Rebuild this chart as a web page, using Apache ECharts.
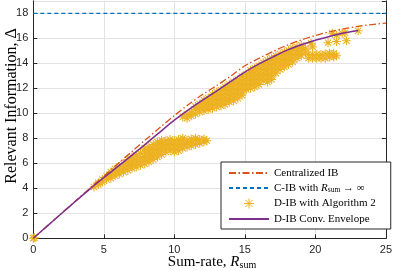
<!DOCTYPE html>
<html><head><meta charset="utf-8">
<script src="https://cdn.jsdelivr.net/npm/echarts@6/dist/echarts.min.js"></script>
<style>html,body{margin:0;padding:0;background:#fff}#c{width:395px;height:271px}</style>
</head><body><div id="c"></div>
<script>
// ---- data ----
const centralX = [0,1,2,3,4,5,6,7,8,9,10,11,12,13,14,15,16,17,18,19,20,21,22,23,24,25];
const centralY = [0,1.0,2.0,3.0,3.99,4.97,5.97,6.95,7.92,8.88,9.82,10.7,11.5,12.22,12.98,13.8,14.4,14.95,15.45,15.87,16.22,16.52,16.76,16.95,17.1,17.22];
const infLimitX = [0,25];
const infLimitY = [18,18];
const envX = [0,1,2,3,4,5,6,7,8,9,10,11,12,13,14,15,16,17,18,19,20,21,22,23.03];
const envY = [0,0.99,1.98,2.96,3.93,4.85,5.75,6.65,7.58,8.52,9.45,10.28,11.05,11.78,12.55,13.3,13.95,14.52,15.05,15.48,15.85,16.15,16.42,16.62];
const algPoints = [
 [0,0],[0.08,0.05],[0.05,-0.05],
 [4.3,4.1],[4.6,4.3],[4.6,4.45],[4.9,4.5],[4.9,4.7],[5.2,4.7],[5.2,4.95],
 [5.5,4.8],[5.5,5.05],[5.5,5.3],[5.8,5.0],[5.8,5.25],[5.8,5.55],
 [6.1,5.15],[6.1,5.45],[6.1,5.75],[6.4,5.3],[6.4,5.6],[6.4,5.95],
 [6.7,5.45],[6.7,5.75],[6.7,6.05],[6.7,6.3],[7.0,5.6],[7.0,5.9],[7.0,6.2],[7.0,6.5],
 [7.3,5.7],[7.3,6.0],[7.3,6.3],[7.3,6.65],[7.6,5.85],[7.6,6.15],[7.6,6.45],[7.6,6.8],
 [7.9,5.95],[7.9,6.25],[7.9,6.55],[7.9,6.9],[7.9,7.2],[8.2,6.1],[8.2,6.4],[8.2,6.7],[8.2,7.0],[8.2,7.3],
 [8.5,6.3],[8.5,6.6],[8.5,6.9],[8.5,7.2],[8.5,7.5],[8.8,6.5],[8.8,6.8],[8.8,7.1],[8.8,7.4],[8.8,7.7],
 [9.1,6.7],[9.1,7.0],[9.1,7.3],[9.1,7.6],[9.1,7.85],[9.4,6.9],[9.4,7.2],[9.4,7.5],[9.4,7.8],
 [9.7,7.0],[9.7,7.3],[9.7,7.6],[9.7,7.9],[10.0,6.9],[10.0,7.2],[10.0,7.5],[10.0,7.8],
 [10.3,7.0],[10.3,7.3],[10.3,7.6],[10.3,7.9],[10.6,7.2],[10.6,7.5],[10.6,7.8],[10.6,8.0],
 [10.9,7.3],[10.9,7.6],[10.9,7.85],[11.2,7.4],[11.2,7.7],[11.2,7.95],[11.5,7.5],[11.5,7.8],[11.5,8.0],
 [11.8,7.6],[11.8,7.9],[12.1,7.7],[12.1,7.95],[12.3,7.8],
 [10.6,9.7],[10.9,9.6],[10.9,9.9],[11.2,9.8],[11.2,10.1],[11.5,9.95],[11.5,10.3],[11.5,10.55],
 [11.8,10.1],[11.8,10.45],[11.8,10.75],[12.1,10.2],[12.1,10.5],[12.1,10.8],[12.1,11.05],
 [12.4,10.3],[12.4,10.6],[12.4,10.9],[12.4,11.2],[12.7,10.4],[12.7,10.7],[12.7,11.0],[12.7,11.3],[12.7,11.5],
 [13.0,10.5],[13.0,10.8],[13.0,11.1],[13.0,11.4],[13.0,11.7],[13.3,10.6],[13.3,10.9],[13.3,11.2],[13.3,11.5],[13.3,11.85],
 [13.6,10.7],[13.6,11.0],[13.6,11.3],[13.6,11.6],[13.6,11.9],[13.6,12.1],
 [13.9,10.9],[13.9,11.2],[13.9,11.5],[13.9,11.8],[13.9,12.1],[13.9,12.3],
 [14.2,11.0],[14.2,11.3],[14.2,11.6],[14.2,11.9],[14.2,12.2],[14.2,12.5],
 [14.5,11.2],[14.5,11.5],[14.5,11.8],[14.5,12.1],[14.5,12.4],[14.5,12.7],
 [14.8,11.45],[14.8,11.7],[14.8,12.0],[14.8,12.3],[14.8,12.6],[14.8,12.95],
 [15.1,11.9],[15.1,12.2],[15.1,12.5],[15.1,12.8],[15.1,13.1],
 [15.4,12.0],[15.4,12.3],[15.4,12.6],[15.4,12.9],[15.4,13.2],[15.4,13.45],
 [15.7,12.1],[15.7,12.4],[15.7,12.7],[15.7,13.0],[15.7,13.3],[15.7,13.6],
 [16.0,12.3],[16.0,12.6],[16.0,12.9],[16.0,13.2],[16.0,13.5],[16.0,13.8],
 [16.3,12.6],[16.3,12.9],[16.3,13.2],[16.3,13.5],[16.3,13.8],[16.3,14.05],
 [16.6,12.5],[16.6,12.8],[16.6,13.1],[16.6,13.4],[16.6,13.7],[16.6,14.0],[16.6,14.25],
 [16.9,12.7],[16.9,13.0],[16.9,13.3],[16.9,13.6],[16.9,13.9],[16.9,14.2],[16.9,14.4],
 [17.2,13.2],[17.2,13.5],[17.2,13.8],[17.2,14.1],[17.2,14.4],[17.2,14.6],
 [17.5,13.5],[17.5,13.8],[17.5,14.1],[17.5,14.4],[17.5,14.75],[17.8,13.7],[17.8,14.0],[17.8,14.3],[17.8,14.6],[17.8,14.9],
 [18.1,13.9],[18.1,14.2],[18.1,14.5],[18.1,14.8],[18.1,15.05],[18.4,14.1],[18.4,14.4],[18.4,14.7],[18.4,15.0],[18.4,15.2],
 [18.7,14.4],[18.7,14.7],[18.7,15.0],[18.7,15.3],[19.0,14.6],[19.0,14.9],[19.0,15.2],[19.0,15.45],[19.3,14.9],[19.3,15.2],
 [19.5,14.4],[19.5,14.7],[19.8,14.4],[19.8,14.7],[19.8,15.3],[20.1,14.4],[20.1,14.7],[20.4,14.4],[20.4,14.7],
 [20.7,14.4],[20.7,14.75],[21.0,14.5],[21.0,14.8],[21.3,14.5],[21.3,14.8],[21.5,14.6],
 [19.7,15.6],[20.9,15.65],[21.5,15.75],[21.5,16.25],[22.2,15.8],[22.1,16.45],[23.03,16.6],[21.2,16.4],[21.9,16.4]
];
const xTicks = {min:0, max:25, interval:5};
const yTicks = {min:0, max:19, interval:2};

const serif = 'Liberation Serif';
const sans = 'Liberation Sans';
const star = 'path://M5 0L5 10M0 5L10 5M1.5 1.5L8.5 8.5M1.5 8.5L8.5 1.5';
const zip = (xs, ys) => xs.map((x,i)=>[x, ys[i]]);

const chart = echarts.init(document.getElementById('c'), null, {renderer:'canvas'});
const axisCol = '#262626';
const hiddenSym = {opacity:0};
chart.setOption({
  animation:false,
  backgroundColor:'#fff',
  grid:{left:33.3, right:3.5, top:0.8, bottom:32.7},
  xAxis:[{type:'value', min:xTicks.min, max:xTicks.max, interval:xTicks.interval,
    axisLine:{show:true, onZero:false, lineStyle:{color:axisCol, width:1}},
    axisTick:{show:true, inside:true, length:4, lineStyle:{color:axisCol}},
    axisLabel:{color:axisCol, fontFamily:sans, fontSize:11, margin:6},
    splitLine:{show:true, lineStyle:{color:'#e3e3e3', width:1}}}],
  yAxis:[{type:'value', min:yTicks.min, max:yTicks.max, interval:yTicks.interval,
    axisLine:{show:true, onZero:false, lineStyle:{color:axisCol, width:1}},
    axisTick:{show:true, inside:true, length:4, lineStyle:{color:axisCol}},
    axisLabel:{color:axisCol, fontFamily:sans, fontSize:11, margin:5, showMaxLabel:false},
    splitLine:{show:true, lineStyle:{color:'#e3e3e3', width:1}}},
    {type:'value', position:'right', min:yTicks.min, max:yTicks.max, interval:yTicks.interval,
    axisLine:{show:true, onZero:false, lineStyle:{color:axisCol, width:1}},
    axisTick:{show:true, inside:true, length:4, lineStyle:{color:axisCol}},
    axisLabel:{show:false}, splitLine:{show:false}}],
  legend:{
    orient:'vertical', left:221, top:162,
    backgroundColor:'#fff', borderColor:axisCol, borderWidth:1,
    padding:[4,15,3,7], itemGap:1, itemWidth:40, itemHeight:10,
    textStyle:{fontFamily:serif, fontSize:11, color:'#000', lineHeight:14,
      rich:{n:{fontFamily:serif, fontSize:11, lineHeight:14}, i:{fontFamily:serif, fontStyle:'italic', fontSize:11, lineHeight:14}, s:{fontFamily:serif, fontSize:7.5, lineHeight:14, padding:[5,0,0,0]}}},
    formatter: function(n){ if(n.indexOf('C-IB')===0) return '{n|C-IB with }{i|R}{s|sum}{n| → ∞}'; return n; },
    data:[{name:'Centralized IB', itemStyle:hiddenSym},{name:'C-IB with R_sum', itemStyle:hiddenSym},{name:'D-IB with Algorithm 2', icon:star, itemStyle:{color:'none', borderColor:'#EDB120', borderWidth:1}},{name:'D-IB Conv. Envelope', itemStyle:hiddenSym}]
  },
  series:[
    {name:'Centralized IB', type:'line', data:zip(centralX, centralY), smooth:0.3, showSymbol:false, symbol:'none', z:4,
      lineStyle:{color:'#D95319', width:1.3, type:[7,2.5,1.5,2.5]}, itemStyle:{color:'#D95319'}},
    {name:'C-IB with R_sum', type:'line', data:zip(infLimitX, infLimitY), showSymbol:false, symbol:'none', z:4,
      lineStyle:{color:'#0072BD', width:1.3, type:[4,3]}, itemStyle:{color:'#0072BD'}},
    {name:'D-IB with Algorithm 2', type:'scatter', data:algPoints, symbol:star, symbolSize:9, z:2,
      itemStyle:{color:'none', borderColor:'#EDB120', borderWidth:1.1, opacity:1}},
    {name:'D-IB Conv. Envelope', type:'line', data:zip(envX, envY), smooth:0.3, showSymbol:false, symbol:'none', z:5,
      lineStyle:{color:'#7E2F8E', width:1.5}, itemStyle:{color:'#7E2F8E'}}
  ],
  graphic:[
    {type:'text', x:212, y:262, style:{text:'{a|Sum-rate, }{b|R}{c|sum}', align:'center', verticalAlign:'middle',
      rich:{a:{fontFamily:serif, fontSize:15, fill:'#000'}, b:{fontFamily:serif, fontStyle:'italic', fontSize:15, fill:'#000'}, c:{fontFamily:serif, fontSize:10, fill:'#000', padding:[7,0,0,0]}}}},
    {type:'text', x:12, y:106, rotation:Math.PI/2, style:{text:'Relevant Information, Δ', align:'center', verticalAlign:'middle', font:'16px "Liberation Serif"', fill:'#000'}}
  ]
});
</script></body></html>
